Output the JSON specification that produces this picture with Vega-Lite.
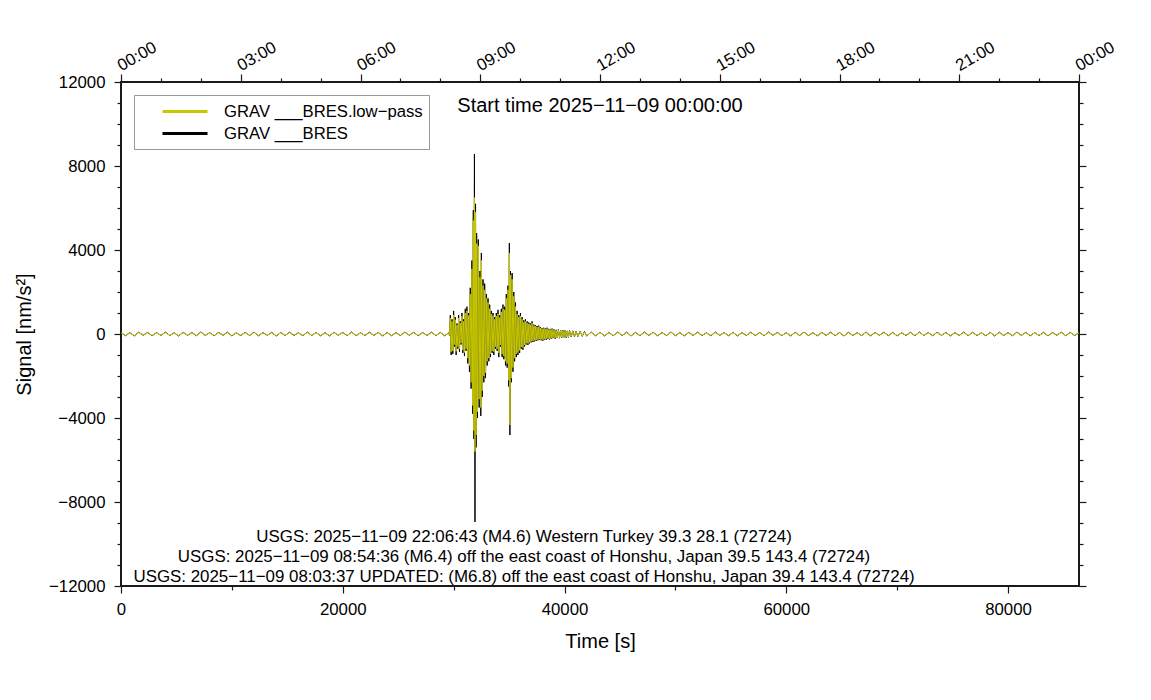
{
  "$schema": "https://vega.github.io/schema/vega-lite/v6.json",
  "width": 958,
  "height": 504,
  "autosize": {"type": "none"},
  "padding": {"left": 121, "top": 82, "right": 72, "bottom": 114},
  "background": "white",
  "config": {
    "font": "Liberation Sans",
    "view": {"stroke": "#1a1a1a", "strokeWidth": 2},
    "axis": {"domain": false, "grid": false, "tickColor": "#1a1a1a", "tickWidth": 1.2, "labelFont": "Liberation Sans", "labelFontSize": 16.8, "labelColor": "black", "labelFlush": false, "labelOverlap": false, "titleFont": "Liberation Sans", "titleFontSize": 20, "titleFontWeight": "normal", "titleColor": "black"},
    "text": {"font": "Liberation Sans", "color": "black"}
  },
  "datasets": {
    "sig": [
      {"t":0,"raw":70,"lp":60},{"t":400,"raw":-80,"lp":-70},{"t":800,"raw":60,"lp":50},{"t":1200,"raw":-90,"lp":-75},{"t":1600,"raw":85,"lp":70},{"t":2000,"raw":-60,"lp":-50},{"t":2400,"raw":75,"lp":65},{"t":2800,"raw":-85,"lp":-70},{"t":3200,"raw":65,"lp":55},{"t":3600,"raw":-70,"lp":-60},
      {"t":4000,"raw":90,"lp":75},{"t":4400,"raw":-75,"lp":-65},{"t":4800,"raw":60,"lp":50},{"t":5200,"raw":-95,"lp":-80},{"t":5600,"raw":80,"lp":70},{"t":6000,"raw":-65,"lp":-55},{"t":6400,"raw":70,"lp":60},{"t":6800,"raw":-80,"lp":-70},{"t":7200,"raw":95,"lp":80},{"t":7600,"raw":-70,"lp":-60},
      {"t":8000,"raw":65,"lp":55},{"t":8400,"raw":-85,"lp":-70},{"t":8800,"raw":75,"lp":65},{"t":9200,"raw":-60,"lp":-50},{"t":9600,"raw":85,"lp":70},{"t":10000,"raw":-90,"lp":-75},{"t":10400,"raw":60,"lp":50},{"t":10800,"raw":-75,"lp":-65},{"t":11200,"raw":80,"lp":70},{"t":11600,"raw":-70,"lp":-60},
      {"t":12000,"raw":90,"lp":75},{"t":12400,"raw":-85,"lp":-70},{"t":12800,"raw":65,"lp":55},{"t":13200,"raw":-60,"lp":-50},{"t":13600,"raw":75,"lp":65},{"t":14000,"raw":-95,"lp":-80},{"t":14400,"raw":70,"lp":60},{"t":14800,"raw":-75,"lp":-65},{"t":15200,"raw":85,"lp":70},{"t":15600,"raw":-65,"lp":-55},
      {"t":16000,"raw":60,"lp":50},{"t":16400,"raw":-80,"lp":-70},{"t":16800,"raw":90,"lp":75},{"t":17200,"raw":-70,"lp":-60},{"t":17600,"raw":75,"lp":65},{"t":18000,"raw":-85,"lp":-70},{"t":18400,"raw":65,"lp":55},{"t":18800,"raw":-90,"lp":-75},{"t":19200,"raw":80,"lp":70},{"t":19600,"raw":-60,"lp":-50},
      {"t":20000,"raw":70,"lp":60},{"t":20400,"raw":-75,"lp":-65},{"t":20800,"raw":95,"lp":80},{"t":21200,"raw":-80,"lp":-70},{"t":21600,"raw":60,"lp":50},{"t":22000,"raw":-70,"lp":-60},{"t":22400,"raw":85,"lp":70},{"t":22800,"raw":-65,"lp":-55},{"t":23200,"raw":75,"lp":65},{"t":23600,"raw":-90,"lp":-75},
      {"t":24000,"raw":70,"lp":60},{"t":24400,"raw":-80,"lp":-70},{"t":24800,"raw":65,"lp":55},{"t":25200,"raw":-75,"lp":-65},{"t":25600,"raw":90,"lp":75},{"t":26000,"raw":-60,"lp":-50},{"t":26400,"raw":80,"lp":70},{"t":26800,"raw":-85,"lp":-70},{"t":27200,"raw":70,"lp":60},{"t":27600,"raw":-70,"lp":-60},
      {"t":28000,"raw":85,"lp":70},{"t":28400,"raw":-80,"lp":-70},{"t":28800,"raw":75,"lp":65},{"t":29200,"raw":-90,"lp":-75},
      {"t":29550,"raw":60,"lp":50},{"t":29625,"raw":-70,"lp":-60},{"t":29700,"raw":900,"lp":760},{"t":29775,"raw":-1000,"lp":-850},{"t":29850,"raw":700,"lp":600},{"t":29925,"raw":-950,"lp":-800},{"t":30000,"raw":1100,"lp":900},{"t":30075,"raw":-600,"lp":-500},{"t":30150,"raw":800,"lp":680},{"t":30225,"raw":-1000,"lp":-820},
      {"t":30300,"raw":500,"lp":430},{"t":30375,"raw":-700,"lp":-600},{"t":30450,"raw":900,"lp":760},{"t":30525,"raw":-850,"lp":-700},{"t":30600,"raw":600,"lp":520},{"t":30675,"raw":-500,"lp":-430},{"t":30750,"raw":1000,"lp":850},{"t":30825,"raw":-900,"lp":-760},{"t":30900,"raw":700,"lp":600},{"t":30975,"raw":-1050,"lp":-880},
      {"t":31050,"raw":1200,"lp":1000},{"t":31125,"raw":-800,"lp":-700},{"t":31200,"raw":1300,"lp":1100},{"t":31275,"raw":-1400,"lp":-1150},{"t":31350,"raw":1000,"lp":880},{"t":31425,"raw":-1800,"lp":-1500},{"t":31500,"raw":2200,"lp":1900},{"t":31575,"raw":-2600,"lp":-2300},{"t":31650,"raw":3500,"lp":3100},{"t":31725,"raw":-3800,"lp":-3400},
      {"t":31775,"raw":5900,"lp":5400},{"t":31825,"raw":-5000,"lp":-4600},{"t":31875,"raw":8570,"lp":6500},{"t":31925,"raw":-8950,"lp":-5600},{"t":31975,"raw":6200,"lp":5800},{"t":32025,"raw":-5400,"lp":-4800},{"t":32075,"raw":4800,"lp":4300},{"t":32150,"raw":-4000,"lp":-3700},{"t":32225,"raw":4500,"lp":4200},{"t":32300,"raw":-3500,"lp":-3100},
      {"t":32375,"raw":3000,"lp":2700},{"t":32450,"raw":-3900,"lp":-3500},{"t":32500,"raw":3860,"lp":3500},{"t":32575,"raw":-3000,"lp":-2700},{"t":32650,"raw":2600,"lp":2300},{"t":32725,"raw":-2300,"lp":-2000},{"t":32800,"raw":2400,"lp":2100},{"t":32875,"raw":-2100,"lp":-1850},{"t":32950,"raw":1900,"lp":1700},{"t":33025,"raw":-1500,"lp":-1300},
      {"t":33100,"raw":1700,"lp":1500},{"t":33175,"raw":-1300,"lp":-1150},{"t":33250,"raw":1400,"lp":1200},{"t":33325,"raw":-1100,"lp":-950},{"t":33400,"raw":1100,"lp":950},{"t":33475,"raw":-900,"lp":-800},{"t":33550,"raw":1000,"lp":870},{"t":33625,"raw":-1000,"lp":-850},{"t":33700,"raw":800,"lp":700},{"t":33775,"raw":-700,"lp":-600},
      {"t":33850,"raw":1000,"lp":850},{"t":33925,"raw":-800,"lp":-700},{"t":34000,"raw":1150,"lp":950},{"t":34075,"raw":-1100,"lp":-900},{"t":34150,"raw":900,"lp":780},{"t":34225,"raw":-600,"lp":-520},{"t":34300,"raw":1200,"lp":1050},{"t":34375,"raw":-1100,"lp":-950},{"t":34450,"raw":1400,"lp":1200},{"t":34525,"raw":-1200,"lp":-1050},
      {"t":34600,"raw":1300,"lp":1150},{"t":34675,"raw":-1500,"lp":-1300},{"t":34750,"raw":1900,"lp":1700},{"t":34825,"raw":-1600,"lp":-1400},{"t":34900,"raw":2300,"lp":2100},{"t":34975,"raw":-2500,"lp":-2200},{"t":35025,"raw":4330,"lp":3860},{"t":35075,"raw":-4810,"lp":-4330},{"t":35125,"raw":3000,"lp":2800},{"t":35200,"raw":-2300,"lp":-2100},
      {"t":35275,"raw":2900,"lp":2600},{"t":35350,"raw":-1800,"lp":-1600},{"t":35425,"raw":2000,"lp":1800},{"t":35500,"raw":-1300,"lp":-1150},{"t":35575,"raw":1500,"lp":1300},{"t":35650,"raw":-1100,"lp":-950},{"t":35725,"raw":1100,"lp":950},{"t":35800,"raw":-1000,"lp":-880},{"t":35875,"raw":900,"lp":800},{"t":35950,"raw":-900,"lp":-780},
      {"t":36025,"raw":1000,"lp":860},{"t":36100,"raw":-700,"lp":-620},{"t":36175,"raw":800,"lp":700},{"t":36250,"raw":-750,"lp":-650},{"t":36325,"raw":650,"lp":560},{"t":36400,"raw":-600,"lp":-520},{"t":36475,"raw":700,"lp":600},{"t":36550,"raw":-500,"lp":-440},{"t":36625,"raw":600,"lp":520},{"t":36700,"raw":-520,"lp":-450},
      {"t":36775,"raw":550,"lp":480},{"t":36850,"raw":-450,"lp":-400},{"t":36925,"raw":500,"lp":440},{"t":37000,"raw":-400,"lp":-350},{"t":37075,"raw":600,"lp":520},{"t":37150,"raw":-380,"lp":-330},{"t":37225,"raw":450,"lp":400},{"t":37300,"raw":-350,"lp":-300},{"t":37375,"raw":420,"lp":370},{"t":37450,"raw":-330,"lp":-290},
      {"t":37525,"raw":380,"lp":330},{"t":37600,"raw":-300,"lp":-260},{"t":37675,"raw":400,"lp":350},{"t":37750,"raw":-280,"lp":-250},{"t":37825,"raw":330,"lp":290},{"t":37900,"raw":-300,"lp":-260},{"t":37975,"raw":280,"lp":250},{"t":38050,"raw":-320,"lp":-280},{"t":38125,"raw":300,"lp":260},{"t":38200,"raw":-260,"lp":-230},
      {"t":38275,"raw":260,"lp":230},{"t":38350,"raw":-280,"lp":-240},{"t":38425,"raw":300,"lp":260},{"t":38500,"raw":-240,"lp":-210},{"t":38575,"raw":250,"lp":220},{"t":38650,"raw":-260,"lp":-230},{"t":38725,"raw":230,"lp":200},{"t":38800,"raw":-220,"lp":-190},{"t":38875,"raw":260,"lp":230},{"t":38950,"raw":-200,"lp":-180},
      {"t":39050,"raw":220,"lp":190},{"t":39150,"raw":-230,"lp":-200},{"t":39250,"raw":200,"lp":170},{"t":39350,"raw":-190,"lp":-170},{"t":39450,"raw":210,"lp":180},{"t":39550,"raw":-200,"lp":-170},{"t":39650,"raw":180,"lp":160},{"t":39750,"raw":-170,"lp":-150},{"t":39850,"raw":190,"lp":165},{"t":39950,"raw":-160,"lp":-140},
      {"t":40050,"raw":170,"lp":150},{"t":40150,"raw":-180,"lp":-150},{"t":40250,"raw":150,"lp":130},{"t":40350,"raw":-160,"lp":-140},{"t":40450,"raw":170,"lp":150},{"t":40600,"raw":-140,"lp":-120},{"t":40750,"raw":150,"lp":130},{"t":40900,"raw":-130,"lp":-110},{"t":41050,"raw":140,"lp":120},{"t":41200,"raw":-120,"lp":-100},
      {"t":41400,"raw":130,"lp":110},{"t":41600,"raw":-110,"lp":-95},{"t":41800,"raw":120,"lp":100},{"t":42000,"raw":-100,"lp":-85},
      {"t":42400,"raw":95,"lp":80},{"t":42800,"raw":-85,"lp":-70},{"t":43200,"raw":80,"lp":70},{"t":43600,"raw":-90,"lp":-75},{"t":44000,"raw":70,"lp":60},{"t":44400,"raw":-80,"lp":-70},{"t":44800,"raw":90,"lp":75},{"t":45200,"raw":-70,"lp":-60},{"t":45600,"raw":85,"lp":70},{"t":46000,"raw":-95,"lp":-80},
      {"t":46400,"raw":75,"lp":65},{"t":46800,"raw":-80,"lp":-70},{"t":47200,"raw":90,"lp":75},{"t":47600,"raw":-65,"lp":-55},{"t":48000,"raw":80,"lp":70},{"t":48400,"raw":-85,"lp":-70},{"t":48800,"raw":70,"lp":60},{"t":49200,"raw":-75,"lp":-65},{"t":49600,"raw":95,"lp":80},{"t":50000,"raw":-80,"lp":-70},
      {"t":50400,"raw":65,"lp":55},{"t":50800,"raw":-90,"lp":-75},{"t":51200,"raw":75,"lp":65},{"t":51600,"raw":-70,"lp":-60},{"t":52000,"raw":85,"lp":70},{"t":52400,"raw":-75,"lp":-65},{"t":52800,"raw":60,"lp":50},{"t":53200,"raw":-85,"lp":-70},{"t":53600,"raw":90,"lp":75},{"t":54000,"raw":-65,"lp":-55},
      {"t":54400,"raw":70,"lp":60},{"t":54800,"raw":-80,"lp":-70},{"t":55200,"raw":80,"lp":70},{"t":55600,"raw":-90,"lp":-75},{"t":56000,"raw":65,"lp":55},{"t":56400,"raw":-70,"lp":-60},{"t":56800,"raw":85,"lp":70},{"t":57200,"raw":-75,"lp":-65},{"t":57600,"raw":70,"lp":60},{"t":58000,"raw":-85,"lp":-70},
      {"t":58400,"raw":95,"lp":80},{"t":58800,"raw":-60,"lp":-50},{"t":59200,"raw":75,"lp":65},{"t":59600,"raw":-80,"lp":-70},{"t":60000,"raw":65,"lp":55},{"t":60400,"raw":-90,"lp":-75},{"t":60800,"raw":80,"lp":70},{"t":61200,"raw":-70,"lp":-60},{"t":61600,"raw":90,"lp":75},{"t":62000,"raw":-75,"lp":-65},
      {"t":62400,"raw":60,"lp":50},{"t":62800,"raw":-85,"lp":-70},{"t":63200,"raw":75,"lp":65},{"t":63600,"raw":-65,"lp":-55},{"t":64000,"raw":85,"lp":70},{"t":64400,"raw":-80,"lp":-70},{"t":64800,"raw":70,"lp":60},{"t":65200,"raw":-95,"lp":-80},{"t":65600,"raw":80,"lp":70},{"t":66000,"raw":-70,"lp":-60},
      {"t":66400,"raw":65,"lp":55},{"t":66800,"raw":-75,"lp":-65},{"t":67200,"raw":90,"lp":75},{"t":67600,"raw":-85,"lp":-70},{"t":68000,"raw":70,"lp":60},{"t":68400,"raw":-60,"lp":-50},{"t":68800,"raw":85,"lp":70},{"t":69200,"raw":-80,"lp":-70},{"t":69600,"raw":75,"lp":65},{"t":70000,"raw":-90,"lp":-75},
      {"t":70400,"raw":60,"lp":50},{"t":70800,"raw":-70,"lp":-60},{"t":71200,"raw":80,"lp":70},{"t":71600,"raw":-85,"lp":-70},{"t":72000,"raw":95,"lp":80},{"t":72400,"raw":-75,"lp":-65},{"t":72800,"raw":70,"lp":60},{"t":73200,"raw":-80,"lp":-70},{"t":73600,"raw":85,"lp":70},{"t":74000,"raw":-65,"lp":-55},
      {"t":74400,"raw":75,"lp":65},{"t":74800,"raw":-90,"lp":-75},{"t":75200,"raw":65,"lp":55},{"t":75600,"raw":-70,"lp":-60},{"t":76000,"raw":90,"lp":75},{"t":76400,"raw":-80,"lp":-70},{"t":76800,"raw":80,"lp":70},{"t":77200,"raw":-75,"lp":-65},{"t":77600,"raw":60,"lp":50},{"t":78000,"raw":-85,"lp":-70},
      {"t":78400,"raw":75,"lp":65},{"t":78800,"raw":-95,"lp":-80},{"t":79200,"raw":85,"lp":70},{"t":79600,"raw":-70,"lp":-60},{"t":80000,"raw":70,"lp":60},{"t":80400,"raw":-80,"lp":-70},{"t":80800,"raw":90,"lp":75},{"t":81200,"raw":-65,"lp":-55},{"t":81600,"raw":75,"lp":65},{"t":82000,"raw":-85,"lp":-70},
      {"t":82400,"raw":65,"lp":55},{"t":82800,"raw":-75,"lp":-65},{"t":83200,"raw":80,"lp":70},{"t":83600,"raw":-90,"lp":-75},{"t":84000,"raw":70,"lp":60},{"t":84400,"raw":-60,"lp":-50},{"t":84800,"raw":85,"lp":70},{"t":85200,"raw":-80,"lp":-70},{"t":85600,"raw":75,"lp":65},{"t":86000,"raw":-70,"lp":-60},
      {"t":86400,"raw":60,"lp":50}
    ],
    "titleText": [{"label": "Start time 2025−11−09 00:00:00"}],
    "events": [{"label": "USGS: 2025−11−09 22:06:43 (M4.6) Western Turkey 39.3 28.1 (72724)\nUSGS: 2025−11−09 08:54:36 (M6.4) off the east coast of Honshu, Japan 39.5 143.4 (72724)\nUSGS: 2025−11−09 08:03:37 UPDATED: (M6.8) off the east coast of Honshu, Japan 39.4 143.4 (72724)"}]
  },
  "layer": [
    {
      "data": {"name": "sig"},
      "mark": {"type": "line", "strokeWidth": 1, "interpolate": "linear"},
      "encoding": {
        "x": {"field": "t", "type": "quantitative", "scale": {"domain": [0, 86400], "nice": false, "zero": false},
              "axis": {"orient": "bottom", "values": [0, 20000, 40000, 60000, 80000], "tickSize": 7, "labelPadding": 8, "format": "d", "title": "Time [s]", "titleY": 55, "titleBaseline": "middle"}},
        "y": {"field": "raw", "type": "quantitative", "scale": {"domain": [-12000, 12000], "nice": false, "zero": false},
              "axis": {"orient": "left", "values": [-12000, -8000, -4000, 0, 4000, 8000, 12000], "tickSize": 7, "labelPadding": 9, "format": "d", "title": "Signal [nm/s²]", "titleX": -97, "titleBaseline": "middle"}},
        "color": {"datum": "GRAV ___BRES",
                  "scale": {"domain": ["GRAV ___BRES.low−pass", "GRAV ___BRES"], "range": ["#c8c800", "#000000"]},
                  "legend": {"orient": "none", "legendX": 13, "legendY": 13, "title": null, "symbolType": "M-2.5,0H2.5", "symbolSize": 324, "symbolStrokeWidth": 3, "labelFont": "Liberation Sans", "labelFontSize": 16.7, "labelColor": "black", "labelLimit": 500, "strokeColor": "#999999", "fillColor": "white", "padding": 6, "symbolOffset": 34.5, "labelOffset": 28.5, "rowPadding": 2}}
      }
    },
    {
      "data": {"name": "sig"},
      "mark": {"type": "line", "strokeWidth": 1, "interpolate": "linear"},
      "encoding": {
        "x": {"field": "t", "type": "quantitative",
              "axis": {"orient": "top", "values": [0, 10800, 21600, 32400, 43200, 54000, 64800, 75600, 86400], "tickSize": 8, "labelPadding": 3, "labelExpr": "utcFormat(datum.value * 1000, '%H:%M')", "labelAngle": -30, "labelAlign": "left", "labelBaseline": "alphabetic", "title": null}},
        "y": {"field": "lp", "type": "quantitative",
              "axis": {"orient": "right", "values": [-12000, -8000, -4000, 0, 4000, 8000, 12000], "tickSize": 7, "labels": false, "title": null}},
        "color": {"datum": "GRAV ___BRES.low−pass"}
      }
    },
    {
      "data": {"name": "titleText"},
      "mark": {"type": "text", "fontSize": 20, "align": "center", "baseline": "middle"},
      "encoding": {
        "x": {"datum": 43200, "type": "quantitative",
              "axis": {"orient": "bottom", "values": [10000, 30000, 50000, 70000], "tickSize": 4, "labels": false, "title": null}},
        "y": {"datum": 10860, "type": "quantitative",
              "axis": {"orient": "left", "values": [-11000, -10000, -9000, -7000, -6000, -5000, -3000, -2000, -1000, 1000, 2000, 3000, 5000, 6000, 7000, 9000, 10000, 11000], "tickSize": 4, "labels": false, "title": null}},
        "text": {"field": "label", "type": "nominal"}
      }
    },
    {
      "data": {"name": "events"},
      "mark": {"type": "text", "fontSize": 16.9, "align": "center", "baseline": "middle", "lineBreak": "\n", "lineHeight": 20},
      "encoding": {
        "x": {"datum": 36350, "type": "quantitative",
              "axis": {"orient": "top", "values": [3600, 7200, 14400, 18000, 25200, 28800, 36000, 39600, 46800, 50400, 57600, 61200, 68400, 72000, 79200, 82800], "tickSize": 4, "labels": false, "title": null}},
        "y": {"datum": -9665, "type": "quantitative",
              "axis": {"orient": "right", "values": [-11000, -10000, -9000, -7000, -6000, -5000, -3000, -2000, -1000, 1000, 2000, 3000, 5000, 6000, 7000, 9000, 10000, 11000], "tickSize": 4, "labels": false, "title": null}},
        "text": {"field": "label", "type": "nominal"}
      }
    }
  ],
  "resolve": {"axis": {"x": "independent", "y": "independent"}}
}
